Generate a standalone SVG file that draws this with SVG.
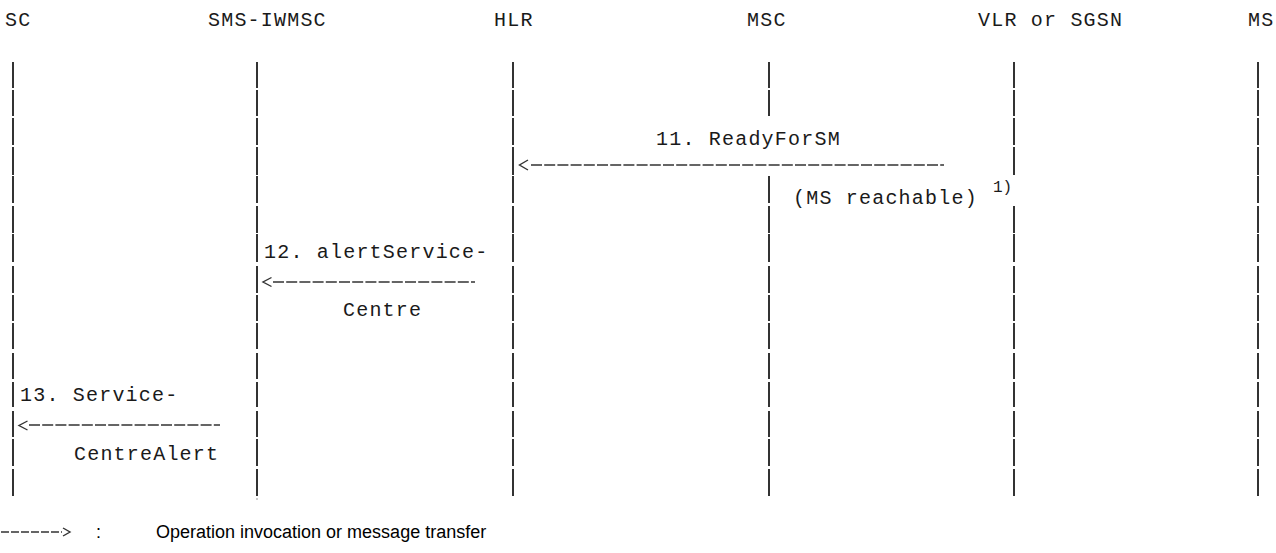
<svg xmlns="http://www.w3.org/2000/svg" width="1276" height="553" viewBox="0 0 1276 553">
  <style>
    .hdr, .lbl { font-family: "Liberation Mono", "Courier New", monospace; font-size: 20px; letter-spacing: 1.2px; fill: #1a1a1a; }
    .sup { font-family: "Liberation Mono", "Courier New", monospace; font-size: 16px; fill: #1a1a1a; }
    .legend { font-family: "Liberation Sans", Arial, sans-serif; font-size: 18px; fill: #000; }
    .life { stroke: #333; stroke-width: 2; fill: none; }
    .dash { stroke: #333; stroke-width: 1.6; stroke-dasharray: 11 2.2; fill: none; }
    .head { stroke: #333; stroke-width: 1.4; fill: none; }
  </style>
  <rect width="1276" height="553" fill="#ffffff"/>

  <g id="node-SC">
    <text class="hdr" x="5" y="26">SC</text>
    <path class="life" d="M13,62V88M13,90V116M13,118V145M13,147V175M13,176V203M13,206V233M13,234V262M13,266V293M13,295V321M13,323V349M13,353V379M13,382V407M13,411V437M13,439V466M13,469V496"/>
  </g>
  <g id="node-SMS-IWMSC">
    <text class="hdr" x="208" y="26">SMS-IWMSC</text>
    <path class="life" d="M257,62V88M257,90V116M257,118V145M257,147V175M257,176V203M257,206V233M257,234V262M257,266V293M257,295V321M257,323V349M257,353V379M257,382V407M257,411V437M257,439V466M257,469V496"/>
    <rect x="256.5" y="498" width="1" height="2" fill="#999"/>
  </g>
  <g id="node-HLR">
    <text class="hdr" x="494" y="26">HLR</text>
    <path class="life" d="M513,62V88M513,90V116M513,118V145M513,147V175M513,176V203M513,206V233M513,234V262M513,266V293M513,295V321M513,323V349M513,353V379M513,382V407M513,411V437M513,439V466M513,469V496"/>
  </g>
  <g id="node-MSC">
    <text class="hdr" x="747" y="26">MSC</text>
    <path class="life" d="M769,62V88M769,90V116M769,176V203M769,206V233M769,234V262M769,266V293M769,295V321M769,323V349M769,353V379M769,382V407M769,411V437M769,439V466M769,469V496"/>
  </g>
  <g id="node-VLR">
    <text class="hdr" x="978" y="26">VLR or SGSN</text>
    <path class="life" d="M1014,62V88M1014,90V116M1014,118V145M1014,147V175M1014,206V233M1014,234V262M1014,266V293M1014,295V321M1014,323V349M1014,353V379M1014,382V407M1014,411V437M1014,439V466M1014,469V496"/>
  </g>
  <g id="node-MS">
    <text class="hdr" x="1248" y="26">MS</text>
    <path class="life" d="M1258,62V88M1258,90V116M1258,118V145M1258,147V175M1258,176V203M1258,206V233M1258,234V262M1258,266V293M1258,295V321M1258,323V349M1258,353V379M1258,382V407M1258,411V437M1258,439V466M1258,469V496"/>
  </g>

  <g id="connectors">
    <g id="msg11">
      <path class="head" d="M528,160L519.5,165L528,170"/>
      <line class="dash" x1="531" y1="165" x2="944" y2="165"/>
    </g>
    <g id="msg12">
      <path class="head" d="M271.5,277.5L263,282L271.5,286.5"/>
      <line class="dash" x1="273" y1="282" x2="475" y2="282"/>
    </g>
    <g id="msg13">
      <path class="head" d="M27.5,421L19,425.5L27.5,430"/>
      <line class="dash" x1="29" y1="425" x2="220" y2="425"/>
    </g>
  </g>

  <g id="labels">
    <text class="lbl" x="656" y="145">11. ReadyForSM</text>
    <text class="lbl" x="793" y="204">(MS reachable)</text>
    <text class="sup" x="993" y="192">1)</text>
    <text class="lbl" x="264" y="258">12. alertService-</text>
    <text class="lbl" x="343" y="316">Centre</text>
    <text class="lbl" x="20" y="401">13. Service-</text>
    <text class="lbl" x="74" y="460">CentreAlert</text>
  </g>

  <g id="legend">
    <line class="dash" x1="1" y1="532" x2="62" y2="532" style="stroke-dasharray:8 2"/>
    <path class="head" d="M63,528L70,532L63,536"/>
    <text class="legend" x="96" y="538">:</text>
    <text class="legend" x="156" y="538">Operation invocation or message transfer</text>
  </g>
</svg>
